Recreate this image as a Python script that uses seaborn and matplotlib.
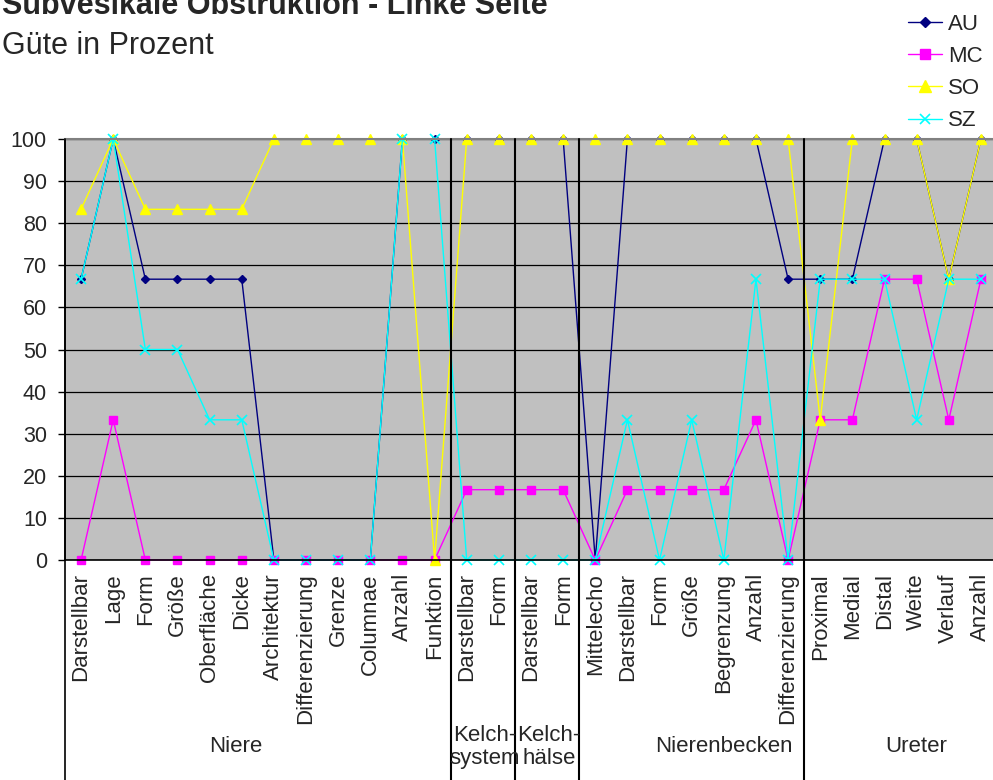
import matplotlib
matplotlib.use("Agg")
import matplotlib.pyplot as plt
import matplotlib.transforms as mtransforms
from matplotlib.lines import Line2D
import pandas as pd
import seaborn as sns

# Category structure: group names and the items measured in each group
groups = ["Niere", "Kelch-\nsystem", "Kelch-\nhälse", "Nierenbecken", "Ureter"]
niere_items = ["Darstellbar", "Lage", "Form", "Größe", "Oberfläche", "Dicke",
               "Architektur", "Differenzierung", "Grenze", "Columnae", "Anzahl", "Funktion"]
kelchsystem_items = ["Darstellbar", "Form"]
kelchhaelse_items = ["Darstellbar", "Form"]
nierenbecken_items = ["Mittelecho", "Darstellbar", "Form", "Größe", "Begrenzung",
                      "Anzahl", "Differenzierung"]
ureter_items = ["Proximal", "Medial", "Distal", "Weite", "Verlauf", "Anzahl"]

# Quality (Güte) in percent per examiner
au = [66.7, 100, 66.7, 66.7, 66.7, 66.7, 0, 0, 0, 0, 100, 100,
      100, 100,
      100, 100,
      0, 100, 100, 100, 100, 100, 66.7,
      66.7, 66.7, 100, 100, 66.7, 100]
mc = [0, 33.3, 0, 0, 0, 0, 0, 0, 0, 0, 0, 0,
      16.7, 16.7,
      16.7, 16.7,
      0, 16.7, 16.7, 16.7, 16.7, 33.3, 0,
      33.3, 33.3, 66.7, 66.7, 33.3, 66.7]
so = [83.3, 100, 83.3, 83.3, 83.3, 83.3, 100, 100, 100, 100, 100, 0,
      100, 100,
      100, 100,
      100, 100, 100, 100, 100, 100, 100,
      33.3, 100, 100, 100, 66.7, 100]
sz = [66.7, 100, 50, 50, 33.3, 33.3, 0, 0, 0, 0, 100, 100,
      0, 0,
      0, 0,
      0, 33.3, 0, 33.3, 0, 66.7, 0,
      66.7, 66.7, 66.7, 33.3, 66.7, 66.7]

series_names = ["AU", "MC", "SO", "SZ"]
series_values = [au, mc, so, sz]

group_lists = [niere_items, kelchsystem_items, kelchhaelse_items, nierenbecken_items, ureter_items]
tick_labels = [item for g in group_lists for item in g]
n = len(tick_labels)

df = pd.DataFrame({
    "pos": [i for _ in series_names for i in range(n)],
    "value": [v for vals in series_values for v in vals],
    "series": [s for s in series_names for _ in range(n)],
})

styles = {
    "AU": dict(color="#000080", marker="D", ms=4.5, mew=1),
    "MC": dict(color="#FF00FF", marker="s", ms=5.5, mew=1),
    "SO": dict(color="#FFFF00", marker="^", ms=7, mew=1),
    "SZ": dict(color="#00FFFF", marker="x", ms=6.5, mew=1.2),
}

sns.set_style("white", {"axes.facecolor": "#C0C0C0"})
plt.rcParams["font.family"] = ["Liberation Sans", "DejaVu Sans"]

W, H = 993, 780
fig = plt.figure(figsize=(W / 100, H / 100), dpi=100)
px_left, px_right, px_top, px_bottom = 65, 997, 139, 560
ax = fig.add_axes([px_left / W, 1 - px_bottom / H,
                   (px_right - px_left) / W, (px_bottom - px_top) / H])
ax.set_facecolor("#C0C0C0")

ax.set_xlim(-0.5, n - 0.5)
ax.set_ylim(0, 100)
ax.set_yticks(range(0, 101, 10))
ax.yaxis.grid(True, color="black", lw=0.9)
ax.xaxis.grid(False)
ax.set_axisbelow(True)

handles = []
for name in series_names:
    st = styles[name]
    sns.lineplot(data=df[df["series"] == name], x="pos", y="value", ax=ax,
                 color=st["color"], marker=st["marker"], markersize=st["ms"],
                 markeredgecolor=st["color"], markeredgewidth=st["mew"],
                 linewidth=1.0, legend=False, errorbar=None, clip_on=False)
    handles.append(Line2D([], [], color=st["color"], marker=st["marker"],
                          markersize=st["ms"] + 1, markeredgecolor=st["color"],
                          markeredgewidth=st["mew"], linewidth=1.0))

ax.set_xlabel("")
ax.set_ylabel("")
ax.set_xticks(range(n))
ax.set_xticklabels(tick_labels, rotation=90, ha="center", va="top", fontsize=16)
ax.set_xticks([i - 0.5 for i in range(n + 1)], minor=True)
ax.tick_params(axis="x", which="major", length=0, pad=9.5)
ax.tick_params(axis="x", which="minor", length=3.8, width=1, color="black", direction="out")
ax.tick_params(axis="y", which="major", length=5, width=1, color="black",
               direction="out", pad=8, labelsize=15.5, left=True)

for side in ["left", "bottom"]:
    ax.spines[side].set_color("black")
    ax.spines[side].set_linewidth(1.2)
ax.spines["top"].set_color("#808080")
ax.spines["top"].set_linewidth(1.5)
ax.spines["right"].set_visible(False)

# Group separators running from the plot top down through the label area
blend = mtransforms.blended_transform_factory(ax.transData, fig.transFigure)
top_fig = 1 - px_top / H
bounds = [-0.5]
acc = 0
for g in group_lists[:-1]:
    acc += len(g)
    bounds.append(acc - 0.5)
for b in bounds:
    fig.add_artist(Line2D([b, b], [0, top_fig], transform=blend,
                          color="black", lw=1.5 if b > 0 else 1.2))

# Group captions below the item labels
group_x = [4.82, 12.57, 14.56, 20.0, 26.0]
for gname, gx in zip(groups, group_x):
    fig.text(gx, 1 - 747 / H, gname, transform=blend, ha="center", va="center",
             fontsize=16, linespacing=1.1, multialignment="center")

fig.text(0.002, 1 - 14 / H, "Subvesikale Obstruktion - Linke Seite",
         fontsize=22, fontweight="bold", ha="left", va="baseline")
fig.text(0.002, 1 - 54 / H, "Güte in Prozent", fontsize=22, ha="left", va="baseline")

fig.legend(handles, series_names, loc="upper left",
           bbox_to_anchor=(908 / W, 1 - 14 / H), bbox_transform=fig.transFigure,
           frameon=False, fontsize=16, handlelength=1.53, handletextpad=0.28,
           labelspacing=0.5, borderpad=0, borderaxespad=0)

fig.savefig("out.png", dpi=100)
